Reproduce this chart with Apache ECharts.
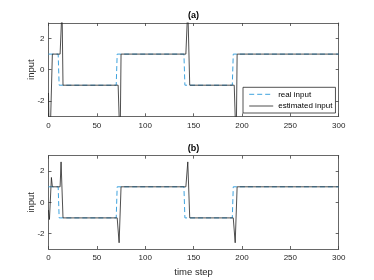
<!DOCTYPE html>
<html>
<head>
<meta charset="utf-8">
<script src="https://cdn.jsdelivr.net/npm/echarts@6/dist/echarts.min.js"></script>
<style>
html,body{margin:0;padding:0;background:#fff;}
#c{width:374px;height:280px;}
</style>
</head>
<body>
<div id="c"></div>
<script>
const xTicks = [0, 50, 100, 150, 200, 250, 300];
const yTicks = [-2, 0, 2];
const realT = [0, 10, 11, 70, 71, 140, 141, 190, 191, 300];
const realV = [1, 1, -1, -1, 1, 1, -1, -1, 1, 1];
const estAT = [0, 1, 3, 4, 12, 14, 15, 72, 74, 75, 142, 144, 146, 192, 194, 195, 300];
const estAV = [-1.5, -6, -6, 1, 1, 4, -1, -1, -5, 1, 1, 4, -1, -1, -5, 1, 1];
const estBT = [0, 1, 3, 4, 12, 13, 15, 71, 73, 75, 142, 144, 146, 191, 193, 195, 300];
const estBV = [-0.5, -1.1, 1.6, 1, 1, 2.6, -1, -1, -2.6, 1, 1, 2.6, -1, -1, -2.6, 1, 1];
const titles = ['(a)', '(b)'];
const legendNames = ['real input', 'estimated input'];

const pairs = (t, v) => t.map((x, i) => [x, v[i]]);
const AX = '#404040';
const BLUE = '#3FA3DE';
const FONT = 'Liberation Sans, Arial, sans-serif';
const PL = 48.5, PR = 338.7;
const grids = [{top: 23, h: 93.3}, {top: 155.7, h: 93.3}];

const option = {
  animation: false,
  backgroundColor: '#fff',
  grid: grids.map(g => ({left: PL, width: PR - PL, top: g.top, height: g.h, show: false})),
  xAxis: [],
  yAxis: [],
  series: [],
  legend: {
    data: [
      {name: legendNames[0], itemStyle: {opacity: 0}, lineStyle: {width: 1, type: [5, 3], color: BLUE}},
      {name: legendNames[1], itemStyle: {opacity: 0}, lineStyle: {width: 0.8, color: '#222'}}
    ],
    left: 243, top: 87.3,
    orient: 'vertical',
    backgroundColor: '#fff',
    borderColor: '#262626', borderWidth: 0.8,
    borderRadius: 0,
    padding: [3, 3, 3, 5.7],
    itemGap: 3.7,
    itemWidth: 24, itemHeight: 8,
    itemStyle: {opacity: 0},
    textStyle: {fontFamily: FONT, fontSize: 8, color: '#000'}
  },
  graphic: []
};

grids.forEach((g, i) => {
  const base = {
    gridIndex: i, type: 'value', min: 0, max: 300,
    interval: 50, splitLine: {show: false},
    axisLine: {show: true, onZero: false, lineStyle: {color: AX, width: 0.8}},
    axisTick: {show: true, inside: true, length: 3, lineStyle: {color: AX, width: 0.8}}
  };
  option.xAxis.push(Object.assign({}, base, {
    position: 'bottom',
    axisLabel: {show: true, margin: 5, fontFamily: FONT, fontSize: 8, color: '#262626',
      customValues: xTicks}
  }));
  option.xAxis.push(Object.assign({}, base, {
    position: 'top', axisLabel: {show: false}
  }));
  const ybase = {
    gridIndex: i, type: 'value', min: -3, max: 3,
    splitLine: {show: false},
    axisLine: {show: true, onZero: false, lineStyle: {color: AX, width: 0.8}},
    axisTick: {show: true, inside: true, length: 3, customValues: yTicks,
      lineStyle: {color: AX, width: 0.8}}
  };
  option.yAxis.push(Object.assign({}, ybase, {
    position: 'left',
    axisLabel: {show: true, margin: 4, fontFamily: FONT, fontSize: 8, color: '#262626',
      customValues: yTicks}
  }));
  option.yAxis.push(Object.assign({}, ybase, {
    position: 'right', axisLabel: {show: false}
  }));

  option.series.push({
    name: legendNames[0], type: 'line', xAxisIndex: i * 2, yAxisIndex: i * 2,
    data: pairs(realT, realV), symbol: 'none', clip: true,
    lineStyle: {color: BLUE, width: 1, type: [5, 3]},
    itemStyle: {color: BLUE}, z: 2
  });
  option.series.push({
    name: legendNames[1], type: 'line', xAxisIndex: i * 2, yAxisIndex: i * 2,
    data: i === 0 ? pairs(estAT, estAV) : pairs(estBT, estBV),
    symbol: 'none', clip: true,
    lineStyle: {color: '#222', width: 0.8},
    itemStyle: {color: '#222'}, z: 3
  });

  option.graphic.push({
    type: 'text', x: (PL + PR) / 2, y: g.top - 7,
    style: {text: titles[i], fontFamily: FONT, fontSize: 9, fontWeight: 'bold',
      fill: '#000', textAlign: 'center', textVerticalAlign: 'middle'}
  });
  option.graphic.push({
    type: 'text', x: 31, y: g.top + g.h / 2, rotation: Math.PI / 2,
    style: {text: 'input', fontFamily: FONT, fontSize: 9.5, fill: '#262626',
      textAlign: 'center', textVerticalAlign: 'middle'}
  });
});

option.graphic.push({
  type: 'text', x: (PL + PR) / 2, y: 272,
  style: {text: 'time step', fontFamily: FONT, fontSize: 9.5, fill: '#262626',
    textAlign: 'center', textVerticalAlign: 'middle'}
});

const chart = echarts.init(document.getElementById('c'), null, {renderer: 'canvas'});
chart.setOption(option);
</script>
</body>
</html>
